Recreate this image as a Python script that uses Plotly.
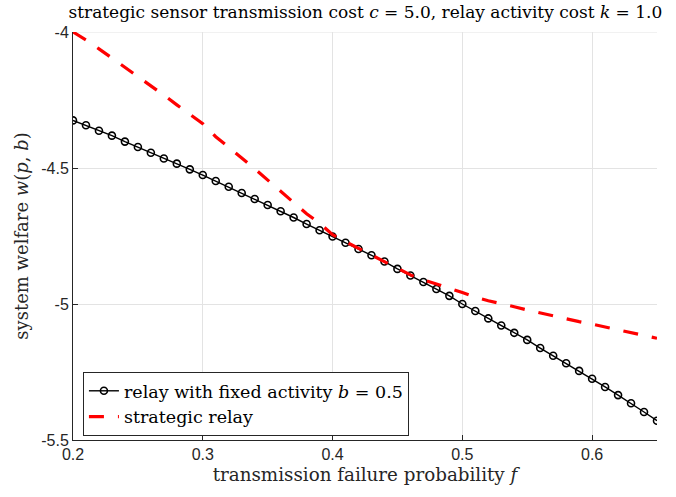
import plotly.graph_objects as go

f_vals = [round(0.20 + 0.01 * i, 2) for i in range(46)]

fixed_relay = [
    -4.325, -4.343, -4.363, -4.381, -4.403, -4.423, -4.444, -4.465, -4.484, -4.505,
    -4.526, -4.548, -4.569, -4.592, -4.614, -4.636, -4.659, -4.682, -4.706, -4.729,
    -4.752, -4.775, -4.798, -4.821, -4.844, -4.871, -4.895, -4.919, -4.945, -4.970,
    -5.000, -5.026, -5.053, -5.079, -5.106, -5.132, -5.162, -5.190, -5.218, -5.246,
    -5.275, -5.305, -5.335, -5.365, -5.397, -5.429,
]

strategic_relay = [
    -4.000, -4.029, -4.062, -4.096, -4.128, -4.161, -4.196, -4.232, -4.268, -4.304,
    -4.337, -4.385, -4.423, -4.463, -4.503, -4.545, -4.586, -4.628, -4.668, -4.703,
    -4.745, -4.771, -4.796, -4.820, -4.844, -4.868, -4.893, -4.911, -4.928, -4.942,
    -4.958, -4.975, -4.988, -4.998, -5.010, -5.022, -5.033, -5.043, -5.055, -5.065,
    -5.074, -5.085, -5.093, -5.105, -5.116, -5.126,
]

x_ticks = [0.2, 0.3, 0.4, 0.5, 0.6]
x_tick_labels = ["0.2", "0.3", "0.4", "0.5", "0.6"]
y_ticks = [-5.5, -5.0, -4.5, -4.0]
y_tick_labels = ["-5.5", "-5", "-4.5", "-4"]

SERIF = "DejaVu Serif, serif"
SANS = "Liberation Sans, Arial, Helvetica, sans-serif"
GRID = "#e3e3e3"

fig = go.Figure()
fig.add_trace(go.Scatter(
    x=f_vals, y=fixed_relay, mode="lines+markers",
    name="relay with fixed activity <i>b</i> = 0.5",
    line=dict(color="black", width=1.4),
    marker=dict(symbol="circle-open", size=7, color="black", line=dict(width=1.6)),
))
fig.add_trace(go.Scatter(
    x=f_vals, y=strategic_relay, mode="lines",
    name="strategic relay",
    line=dict(color="#ff0000", width=3.2, dash="15px,14px"),
))

axis_common = dict(
    showline=True, linecolor="#262626", linewidth=1,
    ticks="inside", ticklen=5, tickcolor="#262626", tickwidth=1,
    showgrid=True, gridcolor=GRID, gridwidth=1,
    zeroline=False, mirror=False,
    tickfont=dict(family=SANS, size=16, color="#262626"),
)

fig.update_layout(
    width=676, height=497,
    margin=dict(l=73, r=19, t=32, b=57),
    paper_bgcolor="white", plot_bgcolor="white",
    title=dict(
        text="strategic sensor transmission cost <i>c</i> = 5.0, relay activity cost <i>k</i> = 1.0",
        x=0.5405, xanchor="center", y=0.975, yanchor="middle",
        font=dict(family=SERIF, size=17, color="black"),
    ),
    xaxis=dict(
        range=[0.2, 0.65], tickvals=x_ticks, ticktext=x_tick_labels,
        title=dict(text="transmission failure probability <i>f</i>",
                   font=dict(family=SERIF, size=18.3, color="#262626"), standoff=5),
        **axis_common,
    ),
    yaxis=dict(
        range=[-5.5, -4.0], tickvals=y_ticks, ticktext=y_tick_labels,
        title=dict(text="system welfare <i>w</i>(<i>p</i>, <i>b</i>)",
                   font=dict(family=SERIF, size=18, color="#262626"), standoff=7),
        **axis_common,
    ),
    legend=dict(
        x=0.017, y=0.01, xanchor="left", yanchor="bottom",
        bgcolor="white", bordercolor="#262626", borderwidth=1,
        font=dict(family=SERIF, size=17.5, color="black"),
        tracegroupgap=0, itemwidth=30,
    ),
    shapes=[dict(type="line", xref="paper", yref="y", x0=0, x1=1, y0=-4.0, y1=-4.0,
                 line=dict(color=GRID, width=1), layer="below")],
    showlegend=True,
)

fig.write_html("out.html")
